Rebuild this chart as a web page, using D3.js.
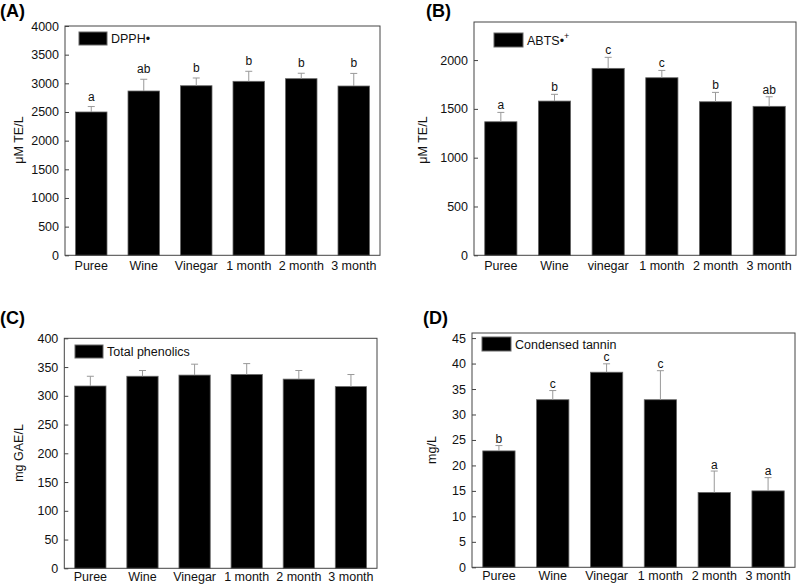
<!DOCTYPE html>
<html><head><meta charset="utf-8">
<script src="https://cdn.jsdelivr.net/npm/d3@7"></script>
<style>body{margin:0;background:#fff}svg{display:block;font-family:"Liberation Sans",Arial,sans-serif}</style>
</head><body>
<svg id="c" width="798" height="588"></svg>
<script>
const catsA = ["Puree","Wine","Vinegar","1 month","2 month","3 month"];
const catsB = ["Puree","Wine","vinegar","1 month","2 month","3 month"];
const dpph = [2500, 2866, 2958, 3035, 3081, 2953];
const dpphErr = [95, 205, 135, 175, 95, 220];
const dpphLetters = ["a","ab","b","b","b","b"];
const abts = [1368, 1580, 1915, 1819, 1573, 1526];
const abtsErr = [96, 69, 113, 75, 96, 98];
const abtsLetters = ["a","b","c","c","b","ab"];
const phen = [317, 334, 336, 337, 329, 316];
const phenErr = [17, 10, 19, 19, 15, 21];
const tannin = [22.85, 32.9, 38.3, 32.9, 14.7, 15.0];
const tanninErr = [1.05, 1.8, 1.65, 5.7, 4.2, 2.6];
const tanninLetters = ["b","c","c","c","a","a"];
const ticksA = [0,500,1000,1500,2000,2500,3000,3500,4000];
const ticksB = [0,500,1000,1500,2000];
const ticksC = [0,50,100,150,200,250,300,350,400];
const ticksD = [0,5,10,15,20,25,30,35,40,45];

const svg = d3.select("#c");

function panel(o){
  const g = svg.append("g");
  const x = d3.scaleBand().domain(o.cats).range([o.l,o.r]).paddingInner(0.4).paddingOuter(0.2);
  const y = d3.scaleLinear().domain(o.dom).range([o.b,o.t]);
  g.selectAll("rect.bar").data(o.vals).join("rect")
    .attr("x",(d,i)=>x(o.cats[i])).attr("width",x.bandwidth())
    .attr("y",d=>y(d)).attr("height",d=>o.b-y(d))
    .attr("fill","#000").attr("stroke","#666").attr("stroke-width",0.8);
  o.vals.forEach((v,i)=>{
    const cx = x(o.cats[i])+x.bandwidth()/2;
    const ey = y(v+o.err[i]);
    g.append("line").attr("x1",cx).attr("x2",cx).attr("y1",y(v)).attr("y2",ey).attr("stroke","#999").attr("stroke-width",1);
    g.append("line").attr("x1",cx-3.5).attr("x2",cx+3.5).attr("y1",ey).attr("y2",ey).attr("stroke","#999").attr("stroke-width",1);
    if(o.letters){
      g.append("text").attr("x",cx).attr("y",ey-o.gap).attr("text-anchor","middle")
        .attr("font-size",12).attr("fill","#111").text(o.letters[i]);
    }
  });
  g.append("rect").attr("x",o.l).attr("y",o.t).attr("width",o.r-o.l).attr("height",o.b-o.t)
    .attr("fill","none").attr("stroke","#444").attr("stroke-width",1);
  const ya = d3.axisLeft(y).tickValues(o.ticks).tickSizeInner(-4).tickSizeOuter(0).tickPadding(6).tickFormat(d3.format("d"));
  const ag = g.append("g").attr("transform",`translate(${o.l},0)`).call(ya);
  ag.select(".domain").remove();
  ag.selectAll("text").attr("font-size",12.5).attr("fill","#111").attr("font-family","Liberation Sans, Arial, sans-serif");
  ag.selectAll("line").attr("stroke","#444");
  const xa = d3.axisBottom(x).tickSize(0).tickPadding(o.xpad);
  const xg = g.append("g").attr("transform",`translate(0,${o.b})`).call(xa);
  xg.select(".domain").remove();
  xg.selectAll("text").attr("font-size",12.5).attr("fill","#111").attr("font-family","Liberation Sans, Arial, sans-serif");
  g.append("text").attr("transform",`translate(${o.yl[0]},${o.yl[1]}) rotate(-90)`).attr("text-anchor","middle")
    .attr("font-size",12.5).attr("fill","#111").text(o.ylabel);
  g.append("text").attr("x",o.pl[0]).attr("y",o.pl[1]).attr("font-size",18).attr("font-weight","bold").attr("fill","#000").text(o.panel);
  g.append("rect").attr("x",o.lg[0]).attr("y",o.lg[1]).attr("width",o.lg[2]).attr("height",o.lg[3]).attr("fill","#000").attr("stroke","#666");
  const lt = g.append("text").attr("x",o.lg[0]+o.lg[2]+4).attr("y",o.lg[1]+o.lg[3]/2+4.5).attr("font-size",12.5).attr("fill","#111");
  lt.append("tspan").text(o.legend);
  if(o.sup) lt.append("tspan").attr("dy",-6).attr("font-size",9).text(o.sup);
}

panel({cats:catsA,vals:dpph,err:dpphErr,letters:dpphLetters,gap:6,dom:[0,4000],ticks:ticksA,xpad:6,
  l:65,r:380,t:26,b:255.3,ylabel:"μM TE/L",yl:[23,140],panel:"(A)",pl:[0,17],
  lg:[79,32,28,13],legend:"DPPH•"});
panel({cats:catsB,vals:abts,err:abtsErr,letters:abtsLetters,gap:3,dom:[0,2390],ticks:ticksB,xpad:6,
  l:474,r:796,t:22,b:255.3,ylabel:"μM TE/L",yl:[427,140],panel:"(B)",pl:[426,17],
  lg:[494,33,29,14],legend:"ABTS•",sup:"+"});
panel({cats:catsA,vals:phen,err:phenErr,letters:null,gap:3,dom:[0,400],ticks:ticksC,xpad:4,
  l:64.3,r:377,t:338.3,b:568.3,ylabel:"mg GAE/L",yl:[23,453],panel:"(C)",pl:[0,324],
  lg:[75,345,28,13],legend:"Total phenolics"});
panel({cats:catsA,vals:tannin,err:tanninErr,letters:tanninLetters,gap:2.5,dom:[0,46],ticks:ticksD,xpad:4,
  l:472,r:795,t:333,b:567.3,ylabel:"mg/L",yl:[436,450],panel:"(D)",pl:[423,324],
  lg:[482,337,29,14],legend:"Condensed tannin"});
</script>
</body></html>
